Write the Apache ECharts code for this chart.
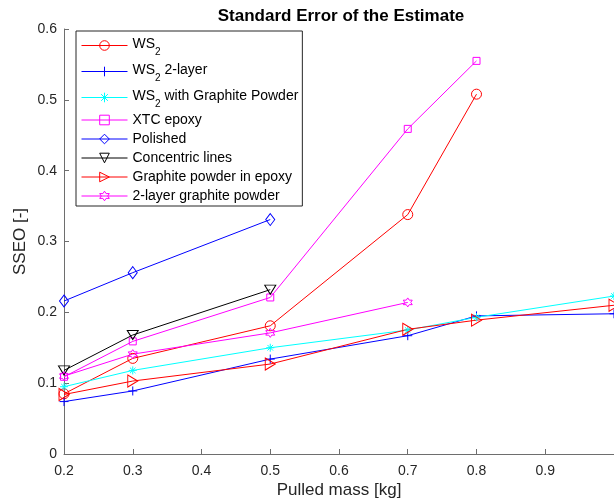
<!DOCTYPE html>
<html>
<head>
<meta charset="utf-8">
<script src="https://cdn.jsdelivr.net/npm/echarts@6/dist/echarts.min.js"></script>
<style>
  html, body { margin: 0; padding: 0; background: #fff; }
  #chart { width: 614px; height: 504px; }
</style>
</head>
<body>
<div id="chart"></div>
<script>
// pulled mass [kg]
var masses = [0.2, 0.3, 0.5, 0.7, 0.8, 1.0];
var xTicks = [0.2, 0.3, 0.4, 0.5, 0.6, 0.7, 0.8, 0.9, 1.0];
var yTicks = [0, 0.1, 0.2, 0.3, 0.4, 0.5, 0.6];

var ws2 = [0.085, 0.135, 0.181, 0.338, 0.508];
var ws2Layer2 = [0.074, 0.089, 0.134, 0.167, 0.195, 0.198];
var ws2Graphite = [0.095, 0.118, 0.150, 0.175, 0.193, 0.223];
var xtcEpoxy = [0.109, 0.159, 0.221, 0.459, 0.555];
var polished = [0.216, 0.256, 0.331];
var concentric = [0.118, 0.168, 0.232];
var graphiteEpoxy = [0.084, 0.103, 0.127, 0.176, 0.189, 0.210];
var layer2Graphite = [0.110, 0.141, 0.171, 0.214];

var names = ['WS2', 'WS2 2-layer', 'WS2 with Graphite Powder', 'XTC epoxy', 'Polished',
             'Concentric lines', 'Graphite powder in epoxy', '2-layer graphite powder'];

var PLUS = 'path://M5,0L5,10M0,5L10,5';
var STAR = 'path://M5,0L5,10M0,5L10,5M1.5,1.5L8.5,8.5M1.5,8.5L8.5,1.5';
var TRI_DOWN = 'path://M0,0L10,0L5,9Z';
var TRI_RIGHT = 'path://M0,0L9,5L0,10Z';
var HEXAGRAM = 'path://M5,0L6.44,2.5L9.33,2.5L7.89,5L9.33,7.5L6.44,7.5L5,10L3.56,7.5L0.67,7.5L2.11,5L0.67,2.5L3.56,2.5Z';

function pairs(vals) {
    return vals.map(function (v, i) { return [masses[i], v]; });
}

function makeSeries(name, vals, color, symbol, size) {
    return {
        name: name,
        type: 'line',
        data: pairs(vals),
        symbol: symbol,
        symbolSize: size,
        showAllSymbol: true,
        lineStyle: { color: color, width: 1 },
        itemStyle: { color: 'rgba(255,255,255,0)', borderColor: color, borderWidth: 1 },
        emphasis: { disabled: true }
    };
}

var series = [
    makeSeries(names[0], ws2, '#ff0000', 'circle', 10),
    makeSeries(names[1], ws2Layer2, '#0000ff', PLUS, 9),
    makeSeries(names[2], ws2Graphite, '#00ffff', STAR, 8),
    makeSeries(names[3], xtcEpoxy, '#ff00ff', 'rect', 7),
    makeSeries(names[4], polished, '#0000ff', 'diamond', [9, 12]),
    makeSeries(names[5], concentric, '#000000', TRI_DOWN, [11, 9]),
    makeSeries(names[6], graphiteEpoxy, '#ff0000', TRI_RIGHT, [10, 12]),
    makeSeries(names[7], layer2Graphite, '#ff00ff', HEXAGRAM, 9)
];

var chartDom = document.getElementById('chart');
var myChart = echarts.init(chartDom);
var option;

var font = "'Liberation Sans', Arial, Helvetica, sans-serif";

option = {
    animation: false,
    textStyle: { fontFamily: font },
    title: {
        text: 'Standard Error of the Estimate',
        left: 336,
        top: 3,
        textAlign: 'center',
        textStyle: { fontSize: 17, fontWeight: 'bold', color: '#000', fontFamily: font }
    },
    grid: { left: 64, right: -2, top: 29, bottom: 50 },
    legend: {
        orient: 'vertical',
        left: 76,
        top: 31,
        padding: [3, 4, 2, 5],
        itemGap: 3,
        itemWidth: 46,
        itemHeight: 12,
        backgroundColor: '#fff',
        borderColor: '#262626',
        borderWidth: 1,
        borderRadius: 0,
        lineStyle: { width: 1 },
        itemStyle: { borderWidth: 1 },
        data: names,
        formatter: function (name) {
            if (name.indexOf('WS2') !== 0) return name;
            var rest = name.slice(3);
            return '{m|WS}{s|2}' + (rest ? '{m|' + rest + '}' : '');
        },
        textStyle: {
            fontSize: 14,
            lineHeight: 16,
            color: '#000',
            fontFamily: font,
            rich: {
                m: { fontSize: 14, lineHeight: 16, verticalAlign: 'top', color: '#000', fontFamily: font },
                s: { fontSize: 10, lineHeight: 12, padding: [13, 0, 0, 0], color: '#000', fontFamily: font }
            }
        }
    },
    xAxis: {
        type: 'value',
        min: xTicks[0],
        max: xTicks[xTicks.length - 1],
        interval: 0.1,
        name: 'Pulled mass [kg]',
        nameLocation: 'middle',
        nameGap: 28,
        nameMoveOverlap: false,
        nameTextStyle: { fontSize: 17, color: '#262626', fontFamily: font },
        axisLine: { lineStyle: { color: '#6e6e6e', width: 1 } },
        axisTick: { inside: true, length: 5, lineStyle: { color: '#6e6e6e' } },
        axisLabel: {
            fontSize: 14,
            color: '#262626',
            margin: 10,
            showMaxLabel: false,
            formatter: function (v) { return String(+v.toFixed(1)); }
        },
        splitLine: { show: false }
    },
    yAxis: {
        type: 'value',
        min: yTicks[0],
        max: yTicks[yTicks.length - 1],
        interval: 0.1,
        name: 'SSEO [-]',
        nameLocation: 'middle',
        nameGap: 35,
        nameMoveOverlap: false,
        nameTextStyle: { fontSize: 17, color: '#262626', fontFamily: font },
        axisLine: { show: true, lineStyle: { color: '#6e6e6e', width: 1 } },
        axisTick: { show: true, inside: true, length: 5, lineStyle: { color: '#6e6e6e' } },
        axisLabel: {
            fontSize: 14,
            color: '#262626',
            margin: 7,
            formatter: function (v) { return String(+v.toFixed(1)); }
        },
        splitLine: { show: false }
    },
    series: series
};

option && myChart.setOption(option);
</script>
</body>
</html>
